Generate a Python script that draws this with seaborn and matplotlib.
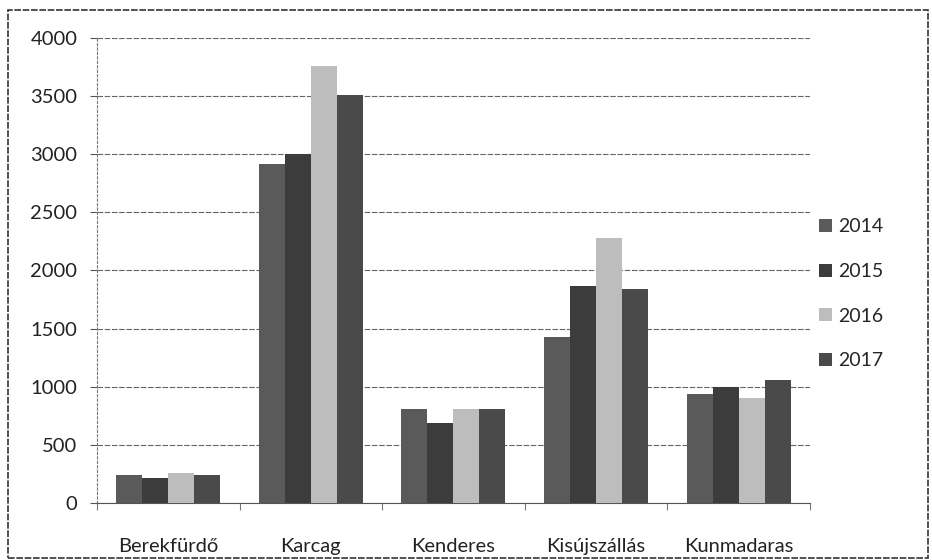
import numpy as np
import pandas as pd
import matplotlib
matplotlib.use("Agg")
import matplotlib.pyplot as plt
import seaborn as sns
from matplotlib.patches import Rectangle

# Adatok
telepulesek = ["Berekfürdő", "Karcag", "Kenderes", "Kisújszállás", "Kunmadaras"]
evek = ["2014", "2015", "2016", "2017"]
ertek_2014 = [240, 2920, 810, 1430, 940]
ertek_2015 = [210, 3000, 690, 1870, 1000]
ertek_2016 = [260, 3760, 810, 2280, 900]
ertek_2017 = [240, 3510, 810, 1840, 1060]
y_ticks = [0, 500, 1000, 1500, 2000, 2500, 3000, 3500, 4000]
szinek = ["#5a5a5a", "#3c3c3c", "#bdbdbd", "#4a4a4a"]

sorok = []
for ev, ertekek in zip(evek, [ertek_2014, ertek_2015, ertek_2016, ertek_2017]):
    for t, v in zip(telepulesek, ertekek):
        sorok.append({"Település": t, "Év": ev, "Érték": v})
df = pd.DataFrame(sorok)

sns.set_style("white")
plt.rcParams["font.family"] = ["Lato", "DejaVu Sans"]

fig = plt.figure(figsize=(9.32, 5.6), dpi=100)
ax = fig.add_axes([0.104, 0.102, 0.765, 0.83])

sns.barplot(data=df, x="Település", y="Érték", hue="Év", palette=szinek,
            width=0.73, saturation=1, ax=ax, errorbar=None, zorder=3,
            linewidth=0, edgecolor="none")

ax.set_ylim(0, 4000)
ax.set_yticks(y_ticks)
ax.set_yticklabels([str(v) for v in y_ticks], fontsize=14.5, color="#222222")
ax.set_xlim(-0.5, len(telepulesek) - 0.5)
ax.tick_params(axis="x", labelsize=14.5, colors="#222222", length=0, pad=25)
ax.tick_params(axis="y", length=5, width=0.8, color="#555555", pad=9, left=True)
ax.set_xticks(np.arange(-0.5, len(telepulesek), 1), minor=True)
ax.tick_params(axis="x", which="minor", length=5, width=0.8, color="#777777", bottom=True)
ax.set_xlabel("")
ax.set_ylabel("")

ax.yaxis.grid(True, color="#666666", linestyle=(0, (5, 1.5)), linewidth=0.8, zorder=0)
ax.set_axisbelow(True)
for s in ["top", "right"]:
    ax.spines[s].set_visible(False)
ax.spines["left"].set_color("#777777")
ax.spines["left"].set_linestyle((0, (2, 2)))
ax.spines["left"].set_linewidth(0.8)
ax.spines["bottom"].set_color("#555555")
ax.spines["bottom"].set_linewidth(0.8)

ax.legend(title=None, frameon=False, loc="center left", bbox_to_anchor=(1.013, 0.45),
          fontsize=14, labelspacing=1.42, handlelength=0.65, handleheight=0.65,
          handletextpad=0.3, borderaxespad=0, borderpad=0)

# Keret a teljes ábra körül
fig.patches.append(Rectangle((0.009, 0.004), 0.987, 0.978, transform=fig.transFigure,
                             fill=False, edgecolor="#333333", linewidth=1.2,
                             linestyle=(0, (4, 1))))

fig.savefig("out.png", dpi=100)
